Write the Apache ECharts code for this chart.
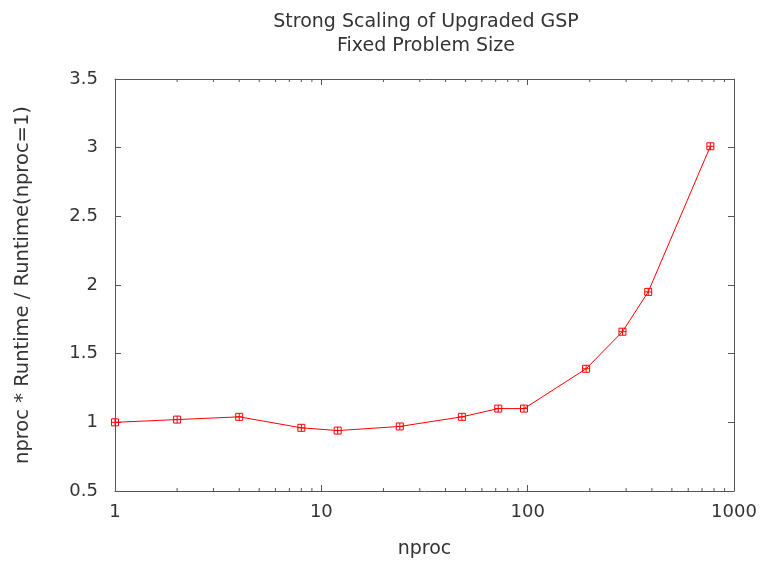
<!DOCTYPE html>
<html>
<head>
<meta charset="utf-8">
<script src="https://cdn.jsdelivr.net/npm/echarts@6/dist/echarts.min.js"></script>
<style>
  html, body { margin: 0; padding: 0; background: #fff; overflow: hidden; }
  #chart { width: 762px; height: 562px; }
</style>
</head>
<body>
<div id="chart"></div>
<script>
// Processor counts and normalised cost (nproc * runtime / runtime at nproc=1)
const nprocs = [1, 2, 4, 8, 12, 24, 48, 72, 96, 192, 288, 384, 768];
const normCost = [1.0, 1.02, 1.04, 0.96, 0.94, 0.97, 1.04, 1.1, 1.1, 1.39, 1.66, 1.95, 3.01];
// Minor tick positions on the logarithmic x axis
const minorTicks = [2, 3, 4, 5, 6, 7, 8, 9, 20, 30, 40, 50, 60, 70, 80, 90, 200, 300, 400, 500, 600, 700, 800, 900];

const FONT = 'DejaVu Sans';
const TEXT = '#333';
const FRAME = '#555';

const chart = echarts.init(document.getElementById('chart'), null, { renderer: 'canvas' });

const logAxisBase = {
  type: 'log', logBase: 10, min: 1, max: 1000,
  axisLine: { show: true, onZero: false, lineStyle: { color: FRAME, width: 1 } },
  axisTick: { show: true, inside: true, length: 6, lineStyle: { color: FRAME } },
  splitLine: { show: false },
  minorTick: { show: false }
};
const valAxisBase = {
  type: 'value', min: 0.5, max: 3.5, interval: 0.5,
  axisLine: { show: true, onZero: false, lineStyle: { color: FRAME, width: 1 } },
  axisTick: { show: true, inside: true, length: 6, lineStyle: { color: FRAME } },
  splitLine: { show: false }
};

// Square marker with a cross through it
const boxPlus = 'path://M0,0L10,0L10,10L0,10Z M5,0L5,10 M0,5L10,5';

chart.setOption({
  animation: false,
  backgroundColor: '#fff',
  title: {
    text: 'Strong Scaling of Upgraded GSP\nFixed Problem Size',
    left: 421, top: 5, textAlign: 'center',
    textStyle: { fontFamily: FONT, fontSize: 19, fontWeight: 'normal', color: TEXT, lineHeight: 24 }
  },
  grid: { left: 115, right: 28, top: 79, bottom: 71, containLabel: false, outerBoundsMode: 'none' },
  xAxis: [
    Object.assign({}, logAxisBase, {
      position: 'bottom',
      name: 'nproc', nameLocation: 'middle', nameGap: 49,
      nameTextStyle: { fontFamily: FONT, fontSize: 19, color: TEXT },
      axisLabel: {
        fontFamily: FONT, fontSize: 18, color: TEXT, margin: 12,
        formatter: function (v) { return String(Math.round(v)); }
      }
    }),
    Object.assign({}, logAxisBase, {
      position: 'top',
      axisLabel: { show: false }
    })
  ],
  yAxis: [
    Object.assign({}, valAxisBase, {
      position: 'left',
      name: 'nproc * Runtime / Runtime(nproc=1)', nameLocation: 'middle', nameGap: 82,
      nameTextStyle: { fontFamily: FONT, fontSize: 19.5, color: TEXT },
      axisLabel: { fontFamily: FONT, fontSize: 18, color: TEXT, margin: 17 }
    }),
    Object.assign({}, valAxisBase, {
      position: 'right',
      axisLabel: { show: false }
    })
  ],
  series: [
    {
      type: 'line',
      data: nprocs.map((n, i) => [n, normCost[i]]),
      xAxisIndex: 0, yAxisIndex: 0,
      lineStyle: { color: '#ff0000', width: 1 },
      symbol: boxPlus,
      symbolSize: 7,
      itemStyle: { color: 'rgba(0,0,0,0)', borderColor: '#ff0000', borderWidth: 1 },
      emphasis: { disabled: true },
      z: 3
    },
    {
      // short inward minor ticks along the bottom and top frame lines
      type: 'custom',
      xAxisIndex: 0, yAxisIndex: 0,
      data: minorTicks.map(v => [v]),
      renderItem: function (params, api) {
        const cs = params.coordSys;
        const x = api.coord([api.value(0), 1])[0];
        const len = 3;
        return {
          type: 'group',
          children: [
            { type: 'line', shape: { x1: x, y1: cs.y + cs.height, x2: x, y2: cs.y + cs.height - len },
              style: { stroke: FRAME, lineWidth: 1 } },
            { type: 'line', shape: { x1: x, y1: cs.y, x2: x, y2: cs.y + len },
              style: { stroke: FRAME, lineWidth: 1 } }
          ]
        };
      },
      silent: true,
      z: 2
    }
  ]
});
</script>
</body>
</html>
